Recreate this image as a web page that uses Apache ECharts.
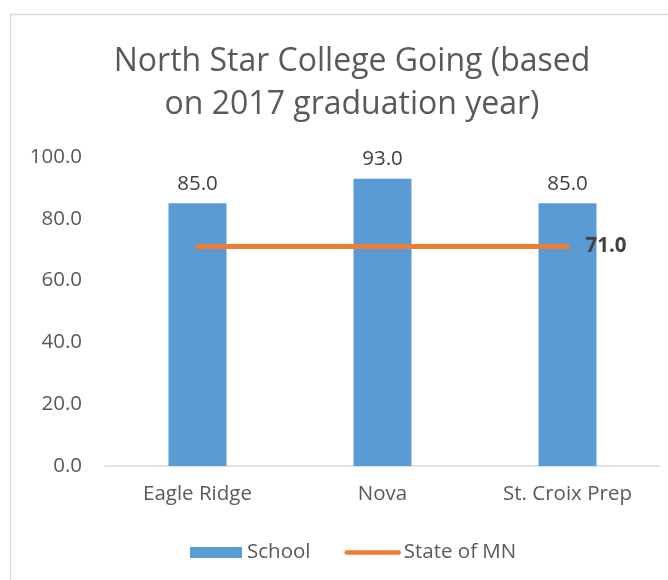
<!DOCTYPE html>
<html lang="en">
<head>
    <meta charset="UTF-8">
    <script src="https://cdn.jsdelivr.net/npm/echarts@6/dist/echarts.min.js"></script>
    <title>North Star College Going</title>
    <style>
        body { margin: 0; background: #ffffff; }
        #chart { width: 668px; height: 580px; }
    </style>
</head>
<body>
    <div id="chart"></div>
    <script>
        var schools = ['Eagle Ridge', 'Nova', 'St. Croix Prep'];
        var schoolValues = [85.0, 93.0, 85.0];
        var stateValues = [71.0, 71.0, 71.0];
        var yTicks = [0, 20, 40, 60, 80, 100];

        var chart = echarts.init(document.getElementById('chart'));
        var font = '"Open Sans", "Noto Sans", sans-serif';

        var option = {
            backgroundColor: '#ffffff',
            textStyle: { fontFamily: font },
            graphic: [{
                type: 'rect',
                shape: { x: 10.5, y: 14.5, width: 700, height: 600 },
                style: { fill: 'none', stroke: '#d9d9d9', lineWidth: 1.5 },
                silent: true
            }],
            title: {
                text: 'North Star College Going (based\non 2017 graduation year)',
                left: 347,
                top: 35,
                textAlign: 'center',
                textStyle: {
                    color: '#595959',
                    fontSize: 32,
                    fontWeight: 'normal',
                    lineHeight: 43,
                    fontFamily: font
                }
            },
            grid: { left: 105, right: 8, top: 157, bottom: 114, containLabel: false },
            legend: {
                left: 185,
                top: 537,
                itemGap: 34,
                itemWidth: 52,
                itemHeight: 11,
                textStyle: { color: '#595959', fontSize: 20.5, fontFamily: font },
                data: [
                    { name: 'School', icon: 'rect' },
                    {
                        name: 'State of MN',
                        itemStyle: { opacity: 0 },
                        lineStyle: { width: 4.5, cap: 'round' }
                    }
                ]
            },
            xAxis: {
                type: 'category',
                data: schools,
                axisLine: { lineStyle: { color: '#d9d9d9', width: 1.5 } },
                axisTick: { show: false },
                axisLabel: { color: '#595959', fontSize: 20.5, margin: 18 }
            },
            yAxis: {
                type: 'value',
                min: yTicks[0],
                max: yTicks[yTicks.length - 1],
                interval: yTicks[1] - yTicks[0],
                axisLine: { show: false },
                axisTick: { show: false },
                splitLine: { show: false },
                axisLabel: {
                    color: '#595959',
                    fontSize: 20.5,
                    margin: 23,
                    formatter: function (v) { return v.toFixed(1); }
                }
            },
            series: [{
                name: 'School',
                type: 'bar',
                data: schoolValues,
                barWidth: 58,
                itemStyle: { color: '#5b9bd5' },
                label: {
                    show: true,
                    position: 'top',
                    distance: 9,
                    color: '#404040',
                    fontSize: 20.5,
                    formatter: function (p) { return p.value.toFixed(1); }
                }
            }, {
                name: 'State of MN',
                type: 'line',
                data: stateValues,
                symbol: 'none',
                itemStyle: { color: '#ed7d31' },
                lineStyle: { color: '#ed7d31', width: 5, cap: 'round' },
                endLabel: {
                    show: true,
                    distance: 18,
                    color: '#404040',
                    fontSize: 20.5,
                    fontWeight: 'bold',
                    formatter: function (p) { return p.value.toFixed(1); }
                }
            }]
        };

        chart.setOption(option);
    </script>
</body>
</html>
